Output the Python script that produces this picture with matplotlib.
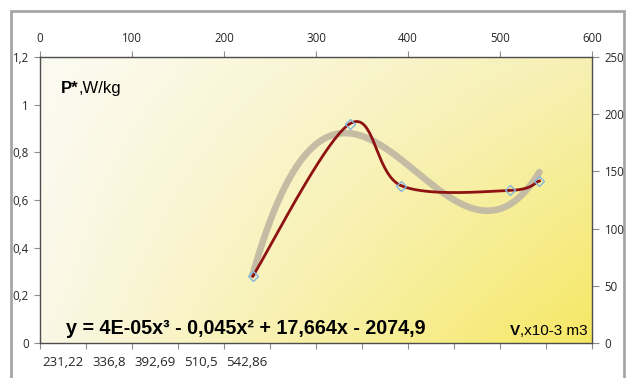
import numpy as np
import matplotlib
matplotlib.use("Agg")
import matplotlib.pyplot as plt
from matplotlib.patches import Rectangle
from matplotlib.ticker import FuncFormatter, MultipleLocator, FixedLocator

# measured points (primary axes: top x, left y)
volume = [231.22, 336.8, 392.69, 510.5, 542.86]
power = [0.28, 0.92, 0.66, 0.64, 0.68]
category_labels = ["231,22", "336,8", "392,69", "510,5", "542,86"]

# points read along the polynomial trendline (secondary axes: top x, right y)
trend_x = [231.9, 264.5, 326.0, 391.3, 427.5, 485.5, 543.5]
trend_y = [62.3, 133.7, 180.3, 165.8, 136.6, 113.4, 151.2]
equation = "y = 4E-05x³ - 0,045x² + 17,664x - 2074,9"

W, H = 627, 378
TICK_FONT = "Open Sans"
TEXT_FONT = "Liberation Sans"
comma = FuncFormatter(lambda v, _: f"{v:g}".replace(".", ","))

fig = plt.figure(figsize=(W / 100, H / 100), dpi=100)
fig.patch.set_facecolor("white")

# plot area in pixels: left 40, right 592, top 57, bottom 343
ax = fig.add_axes([40 / W, 1 - 343 / H, 552 / W, 286 / H])
ax2 = ax.twinx()
ax3 = ax.twiny()
ax.set_zorder(3)
ax2.set_zorder(2)
ax3.set_zorder(1)
ax.patch.set_visible(False)

# diagonal gradient background, pale cream to yellow
tl = np.array([252, 251, 243]) / 255
tr = np.array([247, 240, 180]) / 255
bl = np.array([250, 247, 230]) / 255
br = np.array([246, 232, 100]) / 255
u = np.linspace(0, 1, 200)[None, :, None]
v = np.linspace(0, 1, 120)[:, None, None]
grad = (1 - v) * ((1 - u) * tl + u * tr) + v * ((1 - u) * bl + u * br)
ax2.imshow(grad, extent=[0, 1, 0, 1], transform=ax2.transAxes,
           aspect="auto", zorder=0, interpolation="bilinear")

ax.set_xlim(0, 600)
ax.set_ylim(0, 1.2)
ax2.set_ylim(0, 250)
ax3.set_xlim(0, 12)

# polynomial trendline (order 3) on secondary axis
coeffs = np.polyfit(trend_x, trend_y, 3)
xs = np.linspace(min(volume), max(volume), 200)
ax2.plot(xs, np.polyval(coeffs, xs), color="#C4BDA3", lw=4.8,
         solid_capstyle="round", zorder=2)

# excel-like smoothed line, bezier built in display space
pts = ax.transData.transform(np.column_stack([volume, power]))
ext = np.vstack([pts[0], pts, pts[-1]])
segs = []
t = np.linspace(0, 1, 40)[:, None]
for i in range(len(pts) - 1):
    p0, p1, p2, p3 = ext[i], ext[i + 1], ext[i + 2], ext[i + 3]
    c1 = p1 + (p2 - p0) / 6
    c2 = p2 - (p3 - p1) / 6
    segs.append((1 - t) ** 3 * p1 + 3 * (1 - t) ** 2 * t * c1
                + 3 * (1 - t) * t ** 2 * c2 + t ** 3 * p2)
smooth = ax.transData.inverted().transform(np.vstack(segs))
ax.plot(smooth[:, 0], smooth[:, 1], color="#8E1212", lw=2.0, zorder=3)
ax.plot(volume, power, linestyle="none", marker="D", markersize=5.5,
        markerfacecolor="none", markeredgecolor="#86B6DE",
        markeredgewidth=1.0, zorder=4)

# axes styling
for s in ax.spines.values():
    s.set_color("#4D4D4D")
    s.set_linewidth(1.0)
for a in (ax2, ax3):
    for s in a.spines.values():
        s.set_visible(False)

tick_kw = dict(direction="out", length=4, width=0.8, color="#8C8C8C",
               labelcolor="#262626")
ax.xaxis.set_major_locator(MultipleLocator(100))
ax.yaxis.set_major_locator(MultipleLocator(0.2))
ax.yaxis.set_major_formatter(comma)
ax.tick_params(axis="x", bottom=False, labelbottom=False, top=True,
               labeltop=True, pad=5, labelsize=8.3, **tick_kw)
ax.tick_params(axis="y", left=True, labelleft=True, pad=4, labelsize=8.3,
               **tick_kw)

ax2.yaxis.set_major_locator(MultipleLocator(50))
ax2.tick_params(axis="y", right=True, labelright=True, pad=4,
                length=5, direction="out", width=0.8, color="#8C8C8C",
                labelcolor="#262626", labelsize=8.3)

ax3.xaxis.set_ticks_position("bottom")
ax3.xaxis.set_major_locator(MultipleLocator(1))
ax3.xaxis.set_minor_locator(FixedLocator(np.arange(len(category_labels)) + 0.5))
ax3.xaxis.set_major_formatter(FuncFormatter(lambda v, _: ""))
ax3.xaxis.set_minor_formatter(FuncFormatter(
    lambda v, _: category_labels[int(v)] if int(v) < len(category_labels) else ""))
ax3.tick_params(axis="x", which="major", bottom=True, top=False, **tick_kw)
ax3.tick_params(axis="x", which="minor", bottom=True, top=False, length=0,
                pad=9, labelsize=9.5, labelcolor="#262626")

for lab in (ax.get_xticklabels() + ax.get_yticklabels()
            + ax2.get_yticklabels() + ax3.get_xticklabels(minor=True)):
    lab.set_fontfamily(TICK_FONT)

# outer chart frame
fig.add_artist(Rectangle((11 / W, -0.1), (624 - 11) / W, 1 - 11 / H + 0.1,
                         transform=fig.transFigure, fill=False,
                         edgecolor="#A6A6A6", linewidth=2.0))

# labels inside the plot area
renderer = fig.canvas.get_renderer()
p_bold = fig.text(61 / W, 1 - 93 / H, "P*", fontsize=12, fontweight="bold",
                  family=TEXT_FONT, va="baseline", zorder=10)
bb = p_bold.get_window_extent(renderer)
fig.text(bb.x1 / W, 1 - 93 / H, ",W/kg", fontsize=12, family=TEXT_FONT,
         va="baseline", zorder=10)

fig.text(66 / W, 1 - 334 / H, equation, fontsize=14.2, fontweight="bold",
         family=TEXT_FONT, va="baseline", zorder=10)

v_rest = fig.text(588 / W, 1 - 335 / H, ",x10-3 m3", fontsize=11,
                  family=TEXT_FONT, va="baseline", ha="right", zorder=10)
bb = v_rest.get_window_extent(renderer)
fig.text(bb.x0 / W, 1 - 335 / H, "V", fontsize=11, fontweight="bold",
         family=TEXT_FONT, va="baseline", ha="right", zorder=10)

fig.savefig("out.png", dpi=100)
